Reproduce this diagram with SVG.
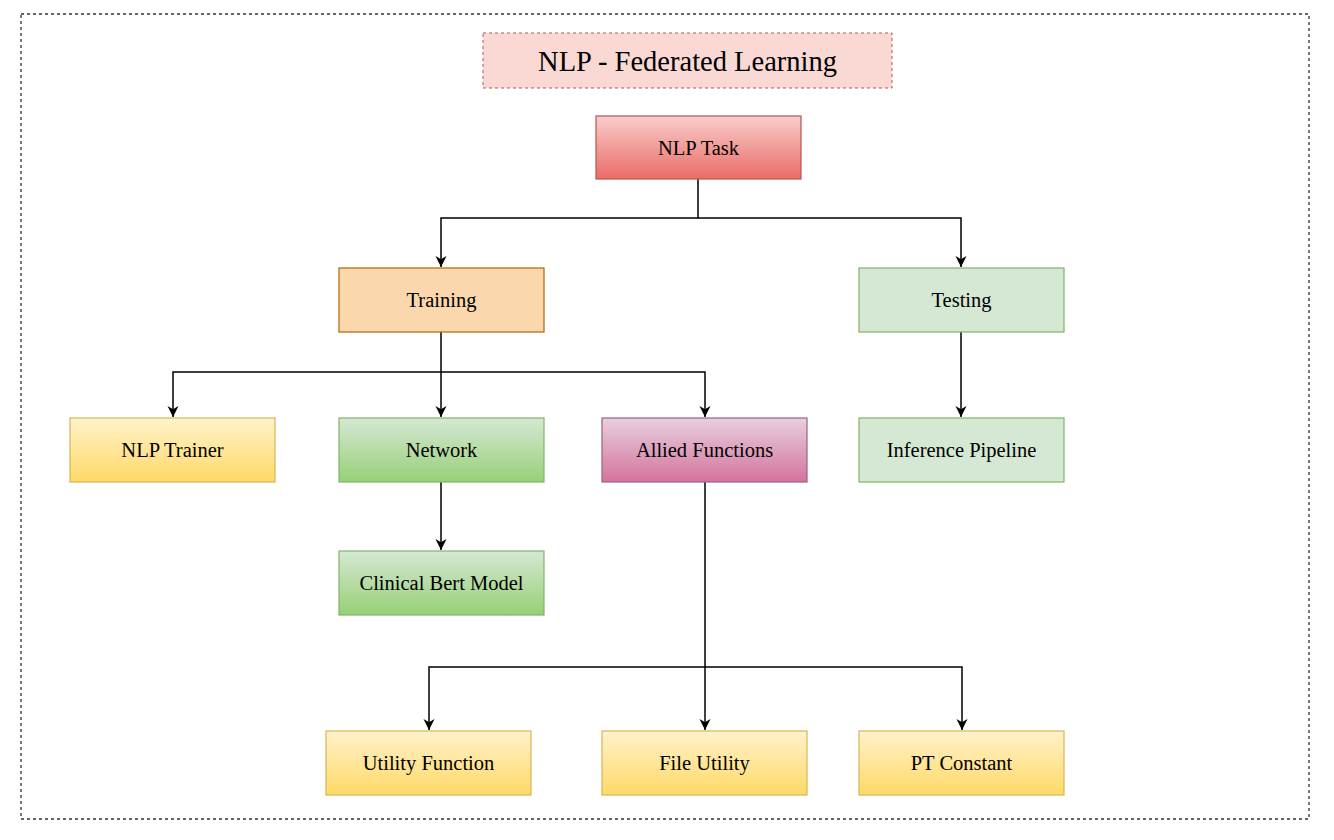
<svg xmlns="http://www.w3.org/2000/svg" width="1334" height="840" viewBox="0 0 1334 840">
<style>
  .lbl { font-family: "Liberation Serif", "Times New Roman", serif; font-size: 20.5px; fill: #000; text-anchor: middle; dominant-baseline: central; }
  .title { font-family: "Liberation Serif", "Times New Roman", serif; font-size: 28.5px; fill: #000; text-anchor: middle; dominant-baseline: central; }
  .conn { fill: none; stroke: #000; stroke-width: 1.5; }
  .red { fill: url(#gRed); stroke: #b85450; stroke-width: 1.2; }
  .orange { fill: #fad7ac; stroke: #b46504; stroke-width: 1.2; }
  .lgreen { fill: #d5e8d4; stroke: #82b366; stroke-width: 1.2; }
  .green { fill: url(#gGreen); stroke: #82b366; stroke-width: 1.2; }
  .yellow { fill: url(#gYellow); stroke: #d6b656; stroke-width: 1.2; }
  .pink { fill: url(#gPink); stroke: #996185; stroke-width: 1.2; }
</style>
<defs>
  <linearGradient id="gRed" x1="0" y1="0" x2="0" y2="1"><stop offset="0" stop-color="#f8cecc"/><stop offset="1" stop-color="#ea6b66"/></linearGradient>
  <linearGradient id="gGreen" x1="0" y1="0" x2="0" y2="1"><stop offset="0" stop-color="#d5e8d4"/><stop offset="1" stop-color="#97d077"/></linearGradient>
  <linearGradient id="gYellow" x1="0" y1="0" x2="0" y2="1"><stop offset="0" stop-color="#fff2cc"/><stop offset="1" stop-color="#ffd966"/></linearGradient>
  <linearGradient id="gPink" x1="0" y1="0" x2="0" y2="1"><stop offset="0" stop-color="#e6d0de"/><stop offset="1" stop-color="#d5739d"/></linearGradient>
  <marker id="arr" viewBox="0 0 10 10" refX="10" refY="5" markerWidth="11" markerHeight="11" markerUnits="userSpaceOnUse" orient="auto" overflow="visible">
    <path d="M0,0 L10,5 L0,10 L3,5 Z" fill="#000"/>
  </marker>
</defs>
<rect width="1334" height="840" fill="#fff"/>
<rect id="frame" x="21" y="14" width="1288" height="805" fill="none" stroke="#333" stroke-width="1.3" stroke-dasharray="3,3"/>
<g id="title">
  <rect x="483" y="33" width="409" height="55" fill="#fad9d5" stroke="#b85450" stroke-width="1" stroke-dasharray="3,3"/>
  <text class="title" x="687.5" y="61">NLP - Federated Learning</text>
</g>
<g id="connectors">
  <path class="conn" d="M698,179 V218 H441 V267" marker-end="url(#arr)"/>
  <path class="conn" d="M698,218 H961 V267" marker-end="url(#arr)"/>
  <path class="conn" d="M441,332 V417" marker-end="url(#arr)"/>
  <path class="conn" d="M441,372 H173 V417" marker-end="url(#arr)"/>
  <path class="conn" d="M441,372 H705 V417" marker-end="url(#arr)"/>
  <path class="conn" d="M961,332 V417" marker-end="url(#arr)"/>
  <path class="conn" d="M441,482 V550" marker-end="url(#arr)"/>
  <path class="conn" d="M705,482 V730" marker-end="url(#arr)"/>
  <path class="conn" d="M705,667 H429 V730" marker-end="url(#arr)"/>
  <path class="conn" d="M705,667 H962 V730" marker-end="url(#arr)"/>
</g>
<g id="nlp-task"><rect class="red" x="596" y="116" width="205" height="63"/><text class="lbl" x="698.5" y="147.5">NLP Task</text></g>
<g id="training"><rect class="orange" x="339" y="268" width="205" height="64"/><text class="lbl" x="441.5" y="300">Training</text></g>
<g id="testing"><rect class="lgreen" x="859" y="268" width="205" height="64"/><text class="lbl" x="961.5" y="300">Testing</text></g>
<g id="nlp-trainer"><rect class="yellow" x="70" y="418" width="205" height="64"/><text class="lbl" x="172.5" y="450">NLP Trainer</text></g>
<g id="network"><rect class="green" x="339" y="418" width="205" height="64"/><text class="lbl" x="441.5" y="450">Network</text></g>
<g id="allied-functions"><rect class="pink" x="602" y="418" width="205" height="64"/><text class="lbl" x="704.5" y="450">Allied Functions</text></g>
<g id="inference-pipeline"><rect class="lgreen" x="859" y="418" width="205" height="64"/><text class="lbl" x="961.5" y="450">Inference Pipeline</text></g>
<g id="clinical-bert-model"><rect class="green" x="339" y="551" width="205" height="64"/><text class="lbl" x="441.5" y="583">Clinical Bert Model</text></g>
<g id="utility-function"><rect class="yellow" x="326" y="731" width="205" height="64"/><text class="lbl" x="428.5" y="763">Utility Function</text></g>
<g id="file-utility"><rect class="yellow" x="602" y="731" width="205" height="64"/><text class="lbl" x="704.5" y="763">File Utility</text></g>
<g id="pt-constant"><rect class="yellow" x="859" y="731" width="205" height="64"/><text class="lbl" x="961.5" y="763">PT Constant</text></g>
</svg>
